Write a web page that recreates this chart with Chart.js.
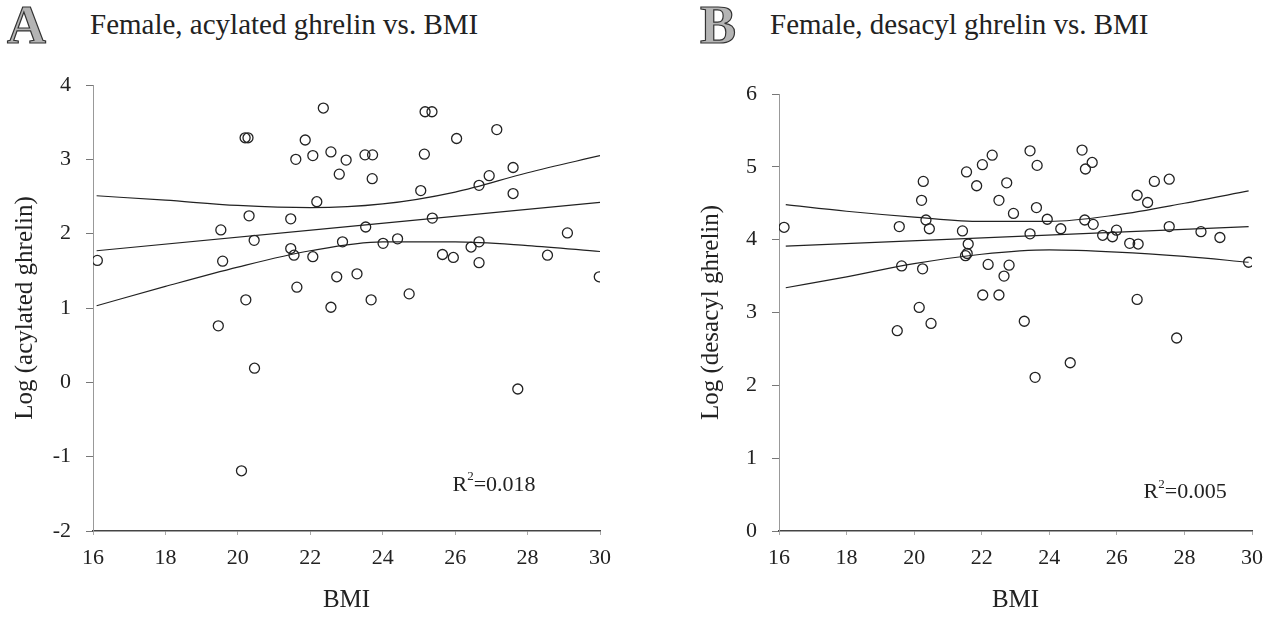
<!DOCTYPE html>
<html>
<head>
<meta charset="utf-8">
<script src="https://cdn.jsdelivr.net/npm/chart.js@4.4.1/dist/chart.umd.min.js"></script>
<style>
  html, body { margin: 0; padding: 0; background: #fff; }
  #page { position: relative; width: 1275px; height: 619px; overflow: hidden; font-family: "Liberation Serif", "Times New Roman", serif; color: #222; }
  canvas { position: absolute; top: 0; }
  #cvA { left: 0; }
  #cvB { left: 640px; }
  .panel { position: absolute; top: -2px; font-size: 54px; line-height: 1; font-weight: bold; color: #b4b4b4; -webkit-text-stroke: 1.2px #333; }
  .title { position: absolute; top: 10px; font-size: 29px; line-height: 1; white-space: nowrap; }
</style>
</head>
<body>
<div id="page">
  <div class="panel" style="left:7px">A</div>
  <div class="title" style="left:90px">Female, acylated ghrelin vs. BMI</div>
  <div class="panel" style="left:700px">B</div>
  <div class="title" style="left:770px">Female, desacyl ghrelin vs. BMI</div>
  <canvas id="cvA" width="640" height="619"></canvas>
  <canvas id="cvB" width="635" height="619"></canvas>
</div>
<script>
// ---- data: acylated ghrelin (panel A) ----
const acylBmi = [16.12, 19.46, 19.53, 19.58, 20.10, 20.20, 20.28, 20.22, 20.31, 20.45, 20.46,
  21.46, 21.46, 21.55, 21.60, 21.63, 21.86, 22.07, 22.07, 22.18, 22.36, 22.57, 22.57, 22.73,
  22.80, 22.89, 22.99, 23.29, 23.51, 23.72, 23.53, 23.68, 23.71, 24.01, 24.41, 24.73, 25.05,
  25.15, 25.17, 25.36, 25.37, 25.65, 25.95, 26.04, 26.44, 26.66, 26.66, 26.66, 26.94, 27.15,
  27.60, 27.60, 27.73, 28.55, 29.10, 29.98];
const acylLog = [1.64, 0.76, 2.05, 1.63, -1.19, 3.29, 3.29, 1.11, 2.24, 1.91, 0.19,
  2.20, 1.80, 1.71, 3.00, 1.28, 3.26, 3.05, 1.69, 2.43, 3.69, 3.10, 1.01, 1.42,
  2.80, 1.89, 2.99, 1.46, 3.06, 3.06, 2.09, 1.11, 2.74, 1.87, 1.93, 1.19, 2.58,
  3.07, 3.64, 3.64, 2.21, 1.72, 1.68, 3.28, 1.82, 2.65, 1.89, 1.61, 2.78, 3.40,
  2.89, 2.54, -0.09, 1.71, 2.01, 1.42];
const acylFitBmi = [16.1, 30];
const acylFit = [1.77, 2.42];
const acylBandBmi = [16.1, 18, 20, 22, 24, 26, 28, 30];
const acylUpper = [2.51, 2.45, 2.38, 2.35, 2.40, 2.56, 2.82, 3.05];
const acylLower = [1.03, 1.29, 1.55, 1.77, 1.89, 1.89, 1.84, 1.76];

// ---- data: desacyl ghrelin (panel B) ----
const desBmi = [16.15, 19.50, 19.56, 19.63, 20.15, 20.22, 20.25, 20.27, 20.35, 20.45, 20.50,
  21.43, 21.52, 21.57, 21.55, 21.60, 21.85, 22.02, 22.03, 22.19, 22.31, 22.51, 22.51, 22.66,
  22.74, 22.81, 22.94, 23.26, 23.43, 23.43, 23.58, 23.62, 23.64, 23.94, 24.34, 24.62, 24.97,
  25.05, 25.07, 25.27, 25.30, 25.58, 25.87, 25.99, 26.38, 26.60, 26.60, 26.63, 26.91, 27.11,
  27.55, 27.55, 27.77, 28.49, 29.05, 29.90];
const desLog = [4.17, 2.75, 4.18, 3.64, 3.07, 4.54, 3.60, 4.80, 4.27, 4.15, 2.85,
  4.12, 3.78, 3.81, 4.93, 3.94, 4.74, 5.03, 3.24, 3.66, 5.16, 4.54, 3.24, 3.50,
  4.78, 3.65, 4.36, 2.88, 5.22, 4.08, 2.11, 4.44, 5.02, 4.28, 4.15, 2.31, 5.23,
  4.27, 4.97, 5.06, 4.21, 4.06, 4.04, 4.13, 3.95, 4.61, 3.18, 3.94, 4.51, 4.80,
  4.83, 4.18, 2.65, 4.11, 4.03, 3.69];
const desFitBmi = [16.2, 29.9];
const desFit = [3.91, 4.18];
const desBandBmi = [16.2, 18, 20, 22, 24, 26, 28, 29.9];
const desUpper = [4.48, 4.39, 4.31, 4.25, 4.25, 4.34, 4.50, 4.67];
const desLower = [3.34, 3.49, 3.67, 3.80, 3.86, 3.83, 3.77, 3.69];

const BMI_TICKS = [16, 18, 20, 22, 24, 26, 28, 30];

const INK = '#222';
const SERIF = '"Liberation Serif", "Times New Roman", serif';

function pairs(xs, ys) {
  return xs.map((x, i) => ({ x, y: ys[i] }));
}

function lineSet(xs, ys) {
  return {
    data: pairs(xs, ys), showLine: true, pointRadius: 0,
    borderColor: INK, borderWidth: 1.2, cubicInterpolationMode: 'monotone', fill: false,
  };
}

// writes the R² note at a data position (right-aligned)
const r2Note = {
  id: 'r2Note',
  afterDatasetsDraw(chart, args, opts) {
    const { ctx, scales } = chart;
    const x = scales.x.getPixelForValue(opts.x);
    const y = scales.y.getPixelForValue(opts.y);
    ctx.save();
    ctx.fillStyle = INK;
    ctx.textBaseline = 'middle';
    ctx.textAlign = 'right';
    ctx.font = '22px ' + SERIF;
    const rest = '=' + opts.value;
    const wRest = ctx.measureText(rest).width;
    ctx.fillText(rest, x, y);
    ctx.font = '13px ' + SERIF;
    const w2 = ctx.measureText('2').width;
    ctx.fillText('2', x - wRest, y - 8);
    ctx.font = '22px ' + SERIF;
    ctx.fillText('R', x - wRest - w2, y);
    ctx.restore();
  },
};

function makeChart(canvasId, cfg) {
  return new Chart(document.getElementById(canvasId), {
    type: 'scatter',
    data: {
      datasets: [
        {
          data: pairs(cfg.bmi, cfg.vals), pointStyle: 'circle', pointRadius: 5,
          pointBorderWidth: 1.3, pointBorderColor: INK, pointBackgroundColor: 'rgba(0,0,0,0)',
        },
        lineSet(cfg.fitBmi, cfg.fit),
        lineSet(cfg.bandBmi, cfg.upper),
        lineSet(cfg.bandBmi, cfg.lower),
      ],
    },
    options: {
      responsive: false,
      devicePixelRatio: 1,
      animation: false,
      layout: { autoPadding: false, padding: { left: cfg.padLeft, right: cfg.padRight, top: cfg.padTop, bottom: 0 } },
      plugins: {
        legend: { display: false },
        tooltip: { enabled: false },
        r2Note: { x: cfg.noteX, y: cfg.noteY, value: cfg.r2 },
      },
      scales: {
        x: {
          type: 'linear', min: 16, max: 30,
          afterBuildTicks: s => { s.ticks = BMI_TICKS.map(v => ({ value: v })); },
          afterFit: s => { s.height = 88; },
          border: { color: '#444', width: 1.5 },
          grid: { drawOnChartArea: false, tickLength: 4, color: '#aaa' },
          ticks: { color: INK, font: { family: SERIF, size: 22 }, padding: 10 },
          title: { display: true, text: 'BMI', color: INK, font: { family: SERIF, size: 25 }, padding: { top: 0, bottom: 4 } },
        },
        y: {
          min: cfg.yMin, max: cfg.yMax,
          afterBuildTicks: s => { s.ticks = cfg.yTicks.map(v => ({ value: v })); },
          afterFit: s => { s.width = cfg.yWidth; },
          border: { color: '#999', width: 1, dash: [1, 2] },
          grid: { drawOnChartArea: false, tickLength: 7, color: '#777' },
          ticks: { color: INK, font: { family: SERIF, size: 22 }, padding: 15 },
          title: { display: true, text: cfg.yTitle, color: INK, font: { family: SERIF, size: 25 }, padding: { top: cfg.yTitlePad, bottom: 0 } },
        },
      },
    },
    plugins: [r2Note],
  });
}

makeChart('cvA', {
  bmi: acylBmi, vals: acylLog,
  fitBmi: acylFitBmi, fit: acylFit,
  bandBmi: acylBandBmi, upper: acylUpper, lower: acylLower,
  yMin: -2, yMax: 4, yTicks: [-2, -1, 0, 1, 2, 3, 4],
  yTitle: 'Log (acylated ghrelin)', yTitlePad: 10,
  padLeft: 0, yWidth: 93, padRight: 40, padTop: 85,
  noteX: 28.22, noteY: -1.38, r2: '0.018',
});

makeChart('cvB', {
  bmi: desBmi, vals: desLog,
  fitBmi: desFitBmi, fit: desFit,
  bandBmi: desBandBmi, upper: desUpper, lower: desLower,
  yMin: 0, yMax: 6, yTicks: [0, 1, 2, 3, 4, 5, 6],
  yTitle: 'Log (desacyl ghrelin)', yTitlePad: 0,
  padLeft: 56, yWidth: 83, padRight: 23, padTop: 94,
  noteX: 29.25, noteY: 0.53, r2: '0.005',
});
</script>
</body>
</html>
